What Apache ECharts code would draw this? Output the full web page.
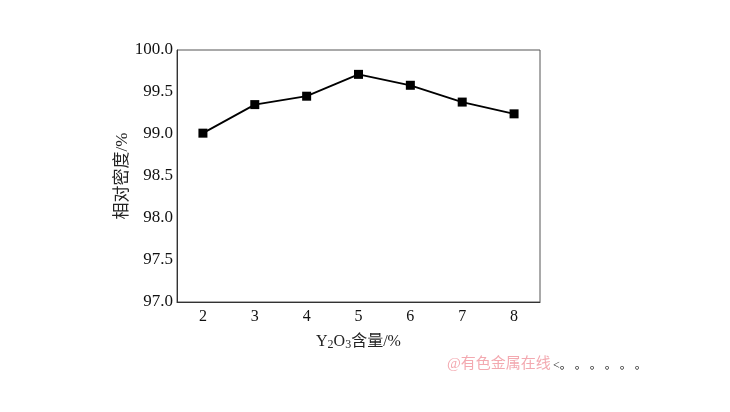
<!DOCTYPE html>
<html><head><meta charset="utf-8">
<script src="https://cdn.jsdelivr.net/npm/echarts@6/dist/echarts.min.js"></script>
<style>html,body{margin:0;padding:0;background:#fff}#c{width:730px;height:412px}</style>
</head><body><div id="c"></div>
<script>
const categories = ['2','3','4','5','6','7','8'];
const density = [99.01, 99.35, 99.45, 99.71, 99.58, 99.38, 99.24];
const yTicks = {min: 97.0, max: 100.0, step: 0.5};

const serif = '"Liberation Serif","Noto Sans CJK SC",serif';
const chart = echarts.init(document.getElementById('c'), null, {renderer:'canvas'});
chart.setOption({
  animation:false,
  backgroundColor:'#fff',
  grid:{left:177,right:190,top:50,bottom:110,show:true,borderColor:'#555',borderWidth:1},
  xAxis:{type:'category',data:categories,boundaryGap:true,
    axisLine:{lineStyle:{color:'#333',width:1}},
    axisTick:{alignWithLabel:true,inside:true,length:5,lineStyle:{color:'#333'}},
    axisLabel:{color:'#111',fontSize:16,fontFamily:serif,margin:7},
    name:'Y{s|2}O{s|3}含量/%',nameLocation:'middle',nameGap:31,
    nameTextStyle:{color:'#222',fontSize:16,fontFamily:serif,
      rich:{s:{fontSize:12,fontFamily:serif,color:'#222',verticalAlign:'bottom',padding:[6,0,0,0]}}}
  },
  yAxis:{type:'value',min:yTicks.min,max:yTicks.max,interval:yTicks.step,
    splitLine:{show:false},
    axisLine:{show:true,lineStyle:{color:'#333',width:1}},
    axisTick:{show:false},
    axisLabel:{color:'#111',fontSize:17,fontFamily:serif,margin:4,formatter:v=>v.toFixed(1)},
    name:'相对密度/%',nameLocation:'middle',nameGap:42,nameRotate:90,
    nameTextStyle:{color:'#222',fontSize:17,fontFamily:serif}
  },
  series:[{type:'line',data:density,symbol:'rect',symbolSize:9,
    lineStyle:{color:'#000',width:1.8},itemStyle:{color:'#000'}}],
  graphic:[
    {type:'text',left:447,top:357,style:{text:'@有色金属在线',fill:'#f3a9b0',fontSize:15,fontFamily:serif}},
    {type:'text',left:553,top:360,style:{text:'<。 。 。 。 。 。',fill:'#222',fontSize:12,fontFamily:serif}}
  ]
});
</script></body></html>
